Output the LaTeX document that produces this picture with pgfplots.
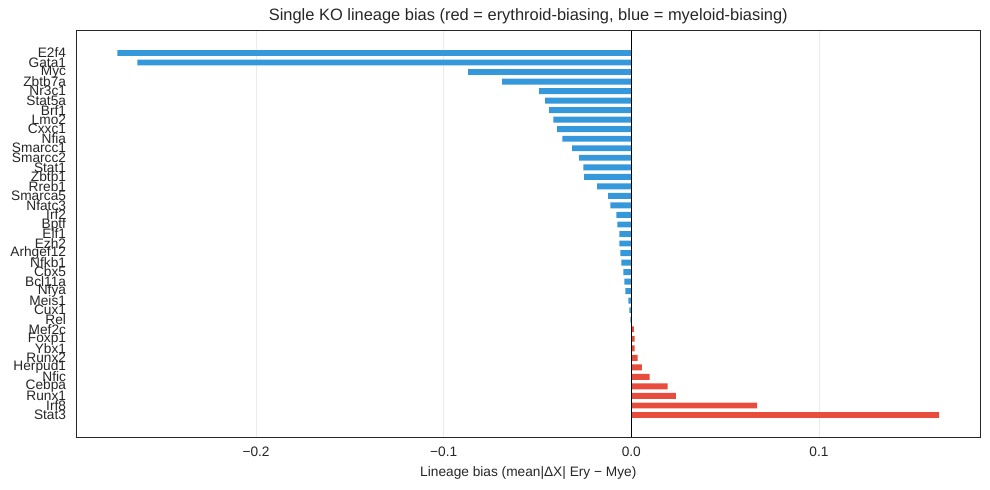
\documentclass[border=0pt]{standalone}
\usepackage{fontspec}
\setmainfont{Liberation Sans}
\usepackage{pgfplots}
\pgfplotsset{compat=1.18}
\usepackage{pgfplotstable}

\definecolor{myeblue}{HTML}{3498DB}
\definecolor{eryred}{HTML}{E74C3C}
\definecolor{framegray}{HTML}{262626}
\definecolor{gridgray}{HTML}{EBEBEB}

% row index (0 = top) and mean lineage bias per knockout
\pgfplotstableread{
idx value
0  -0.2739
1  -0.2632
2  -0.0870
3  -0.0689
4  -0.0491
5  -0.0459
6  -0.0438
7  -0.0416
8  -0.0395
9  -0.0368
10 -0.0315
11 -0.0278
12 -0.0256
13 -0.0251
14 -0.0182
15 -0.0123
16 -0.0112
17 -0.0080
18 -0.0075
19 -0.0064
20 -0.0064
21 -0.0059
22 -0.0053
23 -0.0043
24 -0.0037
25 -0.0032
26 -0.0016
27 -0.0011
28 -0.0005
}\myeloidtab

\pgfplotstableread{
idx value
29 0.0013
30 0.0018
31 0.0018
32 0.0034
33 0.0056
34 0.0098
35 0.0194
36 0.0237
37 0.0670
38 0.1641
}\erythroidtab

\begin{document}
\begin{tikzpicture}
\useasboundingbox (-0.771in,-0.532in) rectangle (9.229in,4.417in);
\begin{axis}[
  at={(0,0)}, anchor=south west,
  scale only axis,
  width=9.131in, height=4.107in,
  xbar, bar width=0.62, bar shift=0pt,
  y dir=reverse,
  xmin=-0.2958, xmax=0.186,
  ymin=-2.34, ymax=40.34,
  xtick={-0.2,-0.1,0,0.1},
  xticklabels={−0.2,−0.1,0.0,0.1},
  ytick={0,...,38},
  yticklabels={E2f4,Gata1,Myc,Zbtb7a,Nr3c1,Stat5a,Brf1,Lmo2,Cxxc1,Nfia,Smarcc1,Smarcc2,Stat1,Zbtb1,Rreb1,Smarca5,Nfatc3,Irf2,Bptf,Elf1,Ezh2,Arhgef12,Nfkb1,Cbx5,Bcl11a,Nfya,Meis1,Cux1,Rel,Mef2c,Foxp1,Ybx1,Runx2,Herpud1,Nfic,Cebpa,Runx1,Irf8,Stat3},
  major tick length=0pt,
  xmajorgrids=true, ymajorgrids=false,
  major grid style={gridgray, line width=0.6pt},
  axis line style={framegray, line width=0.9pt},
  tick label style={font=\fontsize{10}{12}\selectfont, text=framegray},
  xticklabel style={anchor=base, yshift=-14.1pt},
  yticklabel style={anchor=east, xshift=-4pt},
  xlabel={Lineage bias (mean|ΔX| Ery − Mye)},
  xlabel style={at={(0.5,0)}, anchor=base, yshift=-28.7pt, font=\fontsize{10}{12}\selectfont, text=framegray},
  title={Single KO lineage bias (red = erythroid-biasing, blue = myeloid-biasing)},
  title style={at={(0.5,1)}, anchor=base, yshift=1.3pt, font=\fontsize{12}{14}\selectfont, text=framegray},
  axis on top=false,
]
\addplot[fill=myeblue, draw=none] table[x=value, y=idx] {\myeloidtab};
\addplot[fill=eryred, draw=none] table[x=value, y=idx] {\erythroidtab};
\addplot[black, line width=0.8pt, sharp plot, forget plot] coordinates {(0,-2.34) (0,40.34)};
\end{axis}
\end{tikzpicture}
\end{document}
